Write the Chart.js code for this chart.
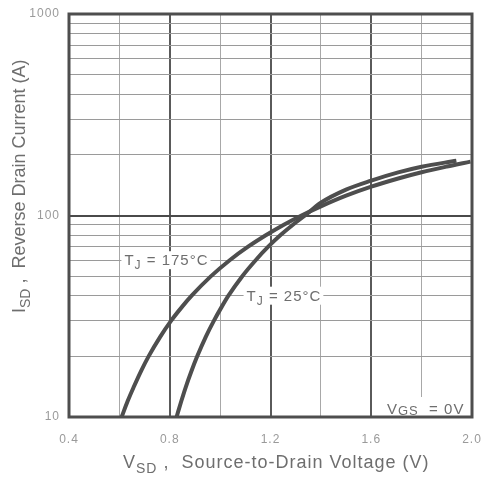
<!DOCTYPE html>
<html>
<head>
<meta charset="utf-8">
<script src="https://cdn.jsdelivr.net/npm/chart.js@4.4.1/dist/chart.umd.min.js"></script>
<style>
  html, body { margin: 0; padding: 0; background: #fff; }
  #wrap { width: 483px; height: 482px; }
</style>
</head>
<body>
<div id="wrap"><canvas id="chart" width="483" height="482"></canvas></div>
<script>
// curve at Tj = 175 C
const vsd175 = [0.609, 0.633, 0.656, 0.687, 0.716, 0.762, 0.805, 0.847, 0.887, 0.964, 1.038, 1.111, 1.183, 1.253, 1.323, 1.4, 1.5, 1.6, 1.707, 1.8, 1.9, 1.994];
const isd175 = [10, 12, 14, 17, 20, 25, 30, 35, 40, 50, 60, 70, 80, 90, 100, 111, 125.4, 139, 152.7, 164, 175, 185];
// curve at Tj = 25 C
const vsd25 = [0.827, 0.846, 0.863, 0.887, 0.909, 0.943, 0.975, 1.005, 1.033, 1.088, 1.141, 1.191, 1.240, 1.289, 1.337, 1.4, 1.5, 1.6, 1.707, 1.8, 1.938];
const isd25 = [10, 12, 14, 17, 20, 25, 30, 35, 40, 50, 60, 70, 80, 90, 100, 115.8, 134.5, 149, 163.6, 174.6, 187];

const xGrid = [0.4, 0.6, 0.8, 1.0, 1.2, 1.4, 1.6, 1.8, 2.0];
const xLabels = [0.4, 0.8, 1.2, 1.6, 2.0];
const yGrid = [10, 20, 30, 40, 50, 60, 70, 80, 90, 100, 200, 300, 400, 500, 600, 700, 800, 900, 1000];
const yLabels = [10, 100, 1000];

const INK = '#4e4e4e';
const TXT = '#6e6e6e';
const FONT = '"Liberation Sans", Arial, sans-serif';

const toPoints = (xs, ys) => xs.map((x, i) => ({ x: x, y: ys[i] }));

// text with subscript parts, drawn left to right from the current origin
function subText(ctx, parts, big, small, drop) {
    let x = 0;
    parts.forEach(p => {
        ctx.font = (p.sub ? small : big) + 'px ' + FONT;
        ctx.fillText(p.t, x, p.sub ? drop : 0);
        x += ctx.measureText(p.t).width;
    });
    return x;
}

function measureParts(ctx, parts, big, small) {
    let w = 0;
    parts.forEach(p => {
        ctx.font = (p.sub ? small : big) + 'px ' + FONT;
        w += ctx.measureText(p.t).width;
    });
    return w;
}

const decor = {
    id: 'decor',
    beforeDraw(chart) {
        chart.ctx.letterSpacing = '1px';
    },
    beforeDatasetsDraw(chart) {
        const { ctx, chartArea: a, scales: { x, y } } = chart;
        ctx.save();
        // V_GS box, lower right
        const bx = x.getPixelForValue(1.6) + 1;
        ctx.fillStyle = '#fff';
        ctx.fillRect(bx, 397, a.right - bx, a.bottom - 397);
        ctx.fillStyle = TXT;
        ctx.letterSpacing = '1px';
        ctx.translate(387, 414);
        subText(ctx, [{ t: 'V' }, { t: 'GS', sub: true }, { t: '  = 0V' }], 15, 13, 1);
        ctx.restore();

        // curve labels sitting on grid lines
        const labels = [
            { v: 0.62, i: 60, parts: [{ t: 'T' }, { t: 'J', sub: true }, { t: ' = 175°C' }] },
            { v: 1.105, i: 40, parts: [{ t: 'T' }, { t: 'J', sub: true }, { t: ' = 25°C' }] }
        ];
        labels.forEach(l => {
            const px = x.getPixelForValue(l.v), py = y.getPixelForValue(l.i);
            ctx.save();
            ctx.letterSpacing = '1px';
            const w = measureParts(ctx, l.parts, 15, 12);
            ctx.fillStyle = '#fff';
            ctx.fillRect(px - 3, py - 9, w + 5, 18);
            ctx.fillStyle = TXT;
            ctx.translate(px, py + 5);
            subText(ctx, l.parts, 15, 12, 4);
            ctx.restore();
        });
    },
    afterDraw(chart) {
        const { ctx, chartArea: a } = chart;
        ctx.save();
        ctx.strokeStyle = INK;
        ctx.lineWidth = 3;
        ctx.strokeRect(a.left, a.top, a.right - a.left, a.bottom - a.top);

        ctx.fillStyle = TXT;
        // x axis title
        ctx.save();
        ctx.letterSpacing = '1px';
        ctx.translate(123, 468);
        subText(ctx, [{ t: 'V' }, { t: 'SD', sub: true }, { t: ' ,  Source-to-Drain Voltage (V)' }], 18, 14, 5);
        ctx.restore();
        // y axis title
        ctx.save();
        ctx.letterSpacing = '0px';
        ctx.translate(25, 313);
        ctx.rotate(-Math.PI / 2);
        subText(ctx, [{ t: 'I' }, { t: 'SD', sub: true }, { t: ' ,  Reverse Drain Current (A)' }], 18, 14, 5);
        ctx.restore();
        ctx.restore();
    }
};

const lineStyle = {
    borderColor: INK,
    borderWidth: 4,
    pointRadius: 0,
    showLine: true,
    fill: false,
    cubicInterpolationMode: 'monotone'
};

new Chart(document.getElementById('chart'), {
    type: 'scatter',
    data: {
        datasets: [
            Object.assign({ label: 'TJ = 175°C', data: toPoints(vsd175, isd175) }, lineStyle),
            Object.assign({ label: 'TJ = 25°C', data: toPoints(vsd25, isd25) }, lineStyle)
        ]
    },
    options: {
        responsive: false,
        animation: false,
        layout: { padding: { top: 14, right: 11, left: 0, bottom: 0 } },
        plugins: { legend: { display: false }, tooltip: { enabled: false } },
        scales: {
            x: {
                type: 'linear', min: 0.4, max: 2.0,
                afterBuildTicks: s => { s.ticks = xGrid.map(v => ({ value: v })); },
                afterFit: s => { s.height = 65; s.paddingLeft = 0; s.paddingRight = 0; },
                border: { display: false },
                grid: {
                    drawTicks: false,
                    color: c => xLabels.some(v => Math.abs(v - c.tick.value) < 1e-6) ? '#5a5a5a' : '#a8a8a8',
                    lineWidth: c => xLabels.some(v => Math.abs(v - c.tick.value) < 1e-6) ? 2 : 1
                },
                ticks: {
                    padding: 15,
                    color: '#9a9a9a',
                    font: { family: FONT, size: 12 },
                    maxRotation: 0,
                    autoSkip: false,
                    callback: v => xLabels.some(l => Math.abs(l - v) < 1e-6) ? v.toFixed(1) : ''
                }
            },
            y: {
                type: 'logarithmic', min: 10, max: 1000,
                afterBuildTicks: s => { s.ticks = yGrid.map(v => ({ value: v })); },
                afterFit: s => { s.width = 69; s.paddingTop = 0; s.paddingBottom = 0; },
                border: { display: false },
                grid: {
                    drawTicks: false,
                    color: c => c.tick.value === 100 ? '#4a4a4a' : '#9a9a9a',
                    lineWidth: c => c.tick.value === 100 ? 2 : 1
                },
                ticks: {
                    padding: 9,
                    color: '#9a9a9a',
                    font: { family: FONT, size: 12 },
                    autoSkip: false,
                    callback: v => yLabels.includes(v) ? String(v) : ''
                }
            }
        }
    },
    plugins: [decor]
});
</script>
</body>
</html>
